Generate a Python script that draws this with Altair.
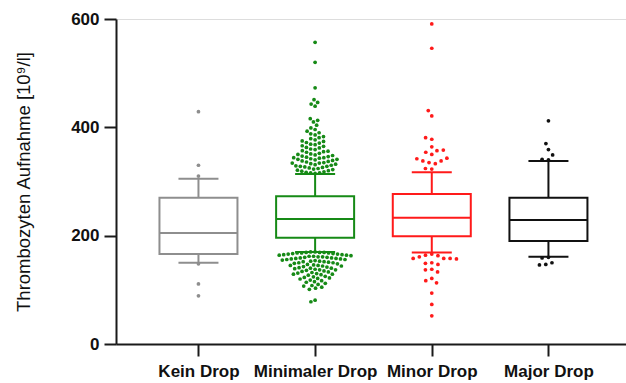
import math
import altair as alt
import pandas as pd

categories = ["Kein Drop", "Minimaler Drop", "Minor Drop", "Major Drop"]
colors = ["#8e8e8e", "#168a16", "#ff1a1a", "#111111"]

# box summary: lower whisker, Q1, median, Q3, upper whisker
w_lo = [150, 170, 169, 161]
q1 = [166, 196, 199, 190]
med = [205, 231, 233, 229]
q3 = [270, 273, 277, 270]
w_hi = [305, 314, 317, 338]

# points outside whiskers
pts_kein = [429, 330, 310, 148, 111, 89]
pts_minimal = [
    315, 316, 316, 317, 318, 319, 320, 321, 322,
    323, 324, 325, 326, 327, 328, 328, 329, 330,
    331, 332, 333, 334, 334, 335, 336, 337, 338,
    339, 340, 341, 341, 342, 343, 344, 344, 345,
    346, 347, 348, 349, 350, 351, 352,
    354, 355, 356, 357, 359, 360,
    362, 363, 365, 366, 368,
    369, 371, 372, 374, 375,
    377, 379, 381, 383,
    386, 388, 390, 393, 396, 399,
    404, 410, 413, 416,
    439, 443, 446, 451,
    473, 520, 557,
    170, 170, 169, 169, 169, 168, 168, 168, 167, 167, 166, 166, 165, 165, 164, 164, 163,
    162, 162, 161, 161, 160, 160, 159, 159, 158, 158, 157, 157, 156, 156,
    155, 154, 153, 153, 152, 152, 151, 150, 150, 149,
    148, 147, 146, 145, 145, 144, 144, 143, 142,
    141, 140, 140, 139, 138, 137, 137, 136, 135,
    134, 133, 132, 131, 130, 129, 129, 128,
    127, 125, 124, 123, 122, 121,
    120, 118, 117, 115, 114,
    112, 110, 108, 107,
    105, 103, 101,
    81, 78,
]
pts_minor = [591, 546, 431, 421, 381, 378, 364, 358, 357, 354, 350, 343, 342,
             338, 338, 335, 333, 324, 323,
             166, 164, 163, 161, 158, 158, 158, 157, 150, 149, 147, 138, 137,
             133, 121, 117, 113, 94, 73, 52]
pts_major = [412, 370, 359, 349, 341, 340, 160, 159, 150, 147, 146]
all_pts = [pts_kein, pts_minimal, pts_minor, pts_major]
dot_gap = [6.5, 4.6, 6.5, 6.5]

W, H = 510, 325
X0, X1 = 0.336, 4.622
PX_PER_UNIT = W / (X1 - X0)
Y_PX = H / 600.0


def swarm(values, med_value, d):
    """Simple beeswarm: place dots outward from the box, nearest free x."""
    order = sorted(range(len(values)), key=lambda i: abs(values[i] - med_value))
    placed = []
    offs = [0.0] * len(values)
    for i in order:
        y = values[i] * Y_PX
        cands = [0.0]
        for px, py in placed:
            dy = abs(py - y)
            if dy < d:
                dx = math.sqrt(d * d - dy * dy)
                cands += [px - dx, px + dx]
        cands.sort(key=abs)
        for c in cands:
            if all((c - px) ** 2 + (y - py) ** 2 >= d * d - 1e-6 for px, py in placed):
                break
        placed.append((c, y))
        offs[i] = c
    return offs


rows = []
for k, vals in enumerate(all_pts):
    offs = swarm(vals, med[k], dot_gap[k])
    for v, o in zip(vals, offs):
        rows.append({"cat": categories[k], "xpos": k + 1 + o / PX_PER_UNIT, "value": v})
points = pd.DataFrame(rows)

box = pd.DataFrame({
    "cat": categories, "idx": [1, 2, 3, 4],
    "w_lo": w_lo, "q1": q1, "med": med, "q3": q3, "w_hi": w_hi,
})

FONT = "Liberation Sans"
AX = "#1a1a1a"
label_expr = "[" + ",".join("'%s'" % c for c in categories) + "][datum.value - 1]"

xscale = alt.Scale(domain=[X0, X1], nice=False, zero=False)
yscale = alt.Scale(domain=[0, 600], nice=False)
cscale = alt.Scale(domain=categories, range=colors)

x_axis = alt.Axis(values=[1, 2, 3, 4], labelExpr=label_expr, title=None, grid=False,
                  tickSize=12, tickWidth=2, tickColor=AX, domainColor=AX, domainWidth=2,
                  labelFont=FONT, labelFontSize=17, labelFontWeight="bold",
                  labelColor="#111111", labelPadding=7)
y_axis = alt.Axis(values=[0, 200, 400, 600], grid=False,
                  title="Thrombozyten Aufnahme [10⁹/l]",
                  titleFont=FONT, titleFontSize=18.5, titleFontWeight="normal",
                  titleColor="#111111", titlePadding=37,
                  tickSize=12, tickWidth=2, tickColor=AX, domainColor=AX, domainWidth=2,
                  labelFont=FONT, labelFontSize=17, labelFontWeight="bold",
                  labelColor="#111111", labelPadding=5)

base = alt.Chart(box)
xenc = alt.X("idx:Q", scale=xscale, axis=x_axis)
cenc = alt.Color("cat:N", scale=cscale, legend=None)

whisk_lo = base.mark_rule(strokeWidth=2, opacity=1).encode(
    x=xenc, y=alt.Y("w_lo:Q", scale=yscale, axis=y_axis), y2="q1:Q", color=cenc)
whisk_hi = base.mark_rule(strokeWidth=2, opacity=1).encode(
    x=alt.X("idx:Q", scale=xscale), y=alt.Y("q3:Q", scale=yscale), y2="w_hi:Q", color=cenc)
cap_lo = base.mark_tick(orient="horizontal", size=40, thickness=2, opacity=1).encode(
    x=alt.X("idx:Q", scale=xscale), y=alt.Y("w_lo:Q", scale=yscale), color=cenc)
cap_hi = base.mark_tick(orient="horizontal", size=40, thickness=2, opacity=1).encode(
    x=alt.X("idx:Q", scale=xscale), y=alt.Y("w_hi:Q", scale=yscale), color=cenc)
boxes = base.mark_bar(size=78, fill="white", strokeWidth=2, opacity=1).encode(
    x=alt.X("idx:Q", scale=xscale), y=alt.Y("q1:Q", scale=yscale), y2="q3:Q",
    stroke=alt.Stroke("cat:N", scale=cscale, legend=None))
medians = base.mark_tick(orient="horizontal", size=78, thickness=2, opacity=1).encode(
    x=alt.X("idx:Q", scale=xscale), y=alt.Y("med:Q", scale=yscale), color=cenc)
dots = alt.Chart(points).mark_circle(size=14, opacity=1).encode(
    x=alt.X("xpos:Q", scale=xscale), y=alt.Y("value:Q", scale=yscale), color=cenc)

chart = alt.layer(whisk_lo, whisk_hi, cap_lo, cap_hi, boxes, medians, dots).properties(
    width=W, height=H,
    autosize=alt.AutoSizeParams(type="none"),
    padding={"left": 116, "top": 19, "right": 0, "bottom": 39},
).configure_view(stroke=None).configure(background="white")

chart.save("out.html", embed_options={"renderer": "svg", "actions": False})
